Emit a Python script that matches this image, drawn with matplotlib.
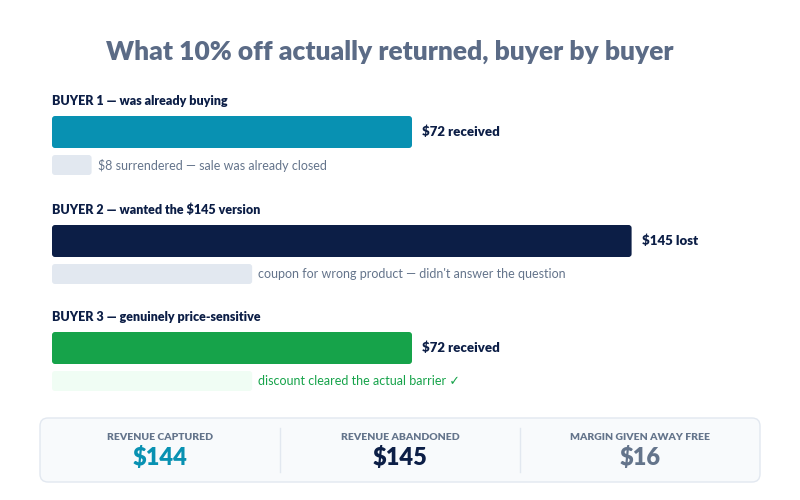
import matplotlib
matplotlib.use("Agg")
import matplotlib.pyplot as plt
from matplotlib.patches import FancyBboxPatch

plt.rcParams["font.family"] = ["Lato", "DejaVu Sans"]

title = "What 10% off actually returned, buyer by buyer"
buyer_labels = ["BUYER 1 — was already buying",
                "BUYER 2 — wanted the $145 version",
                "BUYER 3 — genuinely price-sensitive"]
value_labels = ["$72 received", "$145 lost", "$72 received"]
# bar lengths as % of the track width, as drawn in the reference
bar_share = [50, 80.5, 50]
ghost_share = [5.5, 27.8, 27.8]
ghost_notes = ["$8 surrendered — sale was already closed",
               "coupon for wrong product — didn't answer the question",
               "discount cleared the actual barrier ✓"]
summary_labels = ["REVENUE CAPTURED", "REVENUE ABANDONED", "MARGIN GIVEN AWAY FREE"]
summary_values = ["$144", "$145", "$16"]

bar_colors = ["#0891b2", "#0c1e46", "#16a34a"]
ghost_colors = ["#e2e8f0", "#e2e8f0", "#f0fdf4"]
note_colors = ["#64748b", "#64748b", "#16a34a"]
summary_colors = ["#0891b2", "#0c1e46", "#64748b"]

fig = plt.figure(figsize=(8, 5), dpi=100)
ax = fig.add_axes([0, 0, 1, 1])
ax.set_xlim(0, 800)
ax.set_ylim(500, 0)
ax.axis("off")

ax.text(390, 52, title, ha="center", va="center", fontsize=19, fontweight="heavy", color="#5b6b86")

x0 = 52
track = 720
rows_y = [101, 210, 317]
for i, y in enumerate(rows_y):
    ax.text(x0, y, buyer_labels[i], ha="left", va="center", fontsize=9, fontweight="heavy", color="#0c1e46")
    w = bar_share[i] / 100 * track
    ax.add_patch(FancyBboxPatch((x0, y + 15), w, 32, boxstyle="round,pad=0,rounding_size=3",
                                fc=bar_colors[i], ec="none"))
    ax.text(x0 + w + 10, y + 31, value_labels[i], ha="left", va="center", fontsize=9.5,
            fontweight="heavy", color="#0c1e46")
    gw = ghost_share[i] / 100 * track
    ax.add_patch(FancyBboxPatch((x0, y + 54), gw, 20, boxstyle="round,pad=0,rounding_size=3",
                                fc=ghost_colors[i], ec="none"))
    ax.text(x0 + gw + 6, y + 64, ghost_notes[i], ha="left", va="center", fontsize=9,
            color=note_colors[i])

ax.add_patch(FancyBboxPatch((40, 418), 720, 64, boxstyle="round,pad=0,rounding_size=8",
                            fc="#f8fafc", ec="#e2e8f0", lw=1))
for xd in (280, 520):
    ax.plot([xd, xd], [428, 472], color="#e2e8f0", lw=1)
for i, cx in enumerate((160, 400, 640)):
    ax.text(cx, 437, summary_labels[i], ha="center", va="center", fontsize=7.5,
            fontweight="heavy", color="#64748b")
    ax.text(cx, 457, summary_values[i], ha="center", va="center", fontsize=17,
            fontweight="heavy", color=summary_colors[i])

fig.savefig("out.png", dpi=100, facecolor="white")
